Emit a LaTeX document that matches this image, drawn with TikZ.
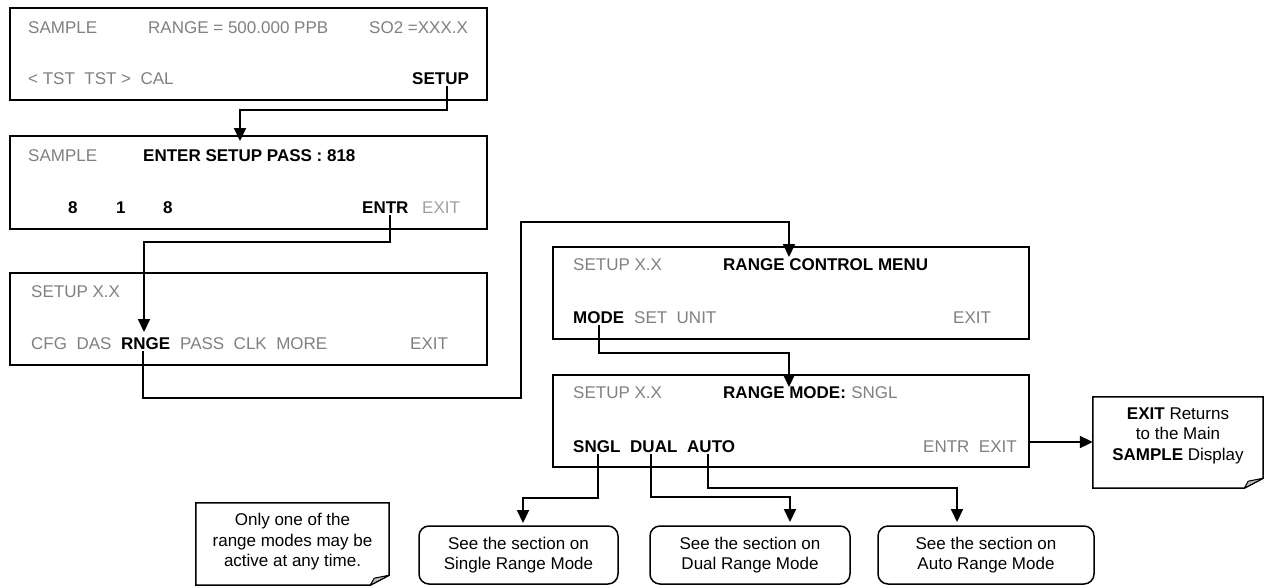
\documentclass[tikz,border=0pt]{standalone}
\usepackage{fontspec}
\setmainfont{Liberation Sans}
\usetikzlibrary{arrows.meta}
\definecolor{lcdgray}{RGB}{128,128,128}
\definecolor{lcdlight}{RGB}{160,160,160}
\definecolor{foldgray}{RGB}{190,190,190}
\begin{document}
\begin{tikzpicture}[x=1pt,y=-1pt,
  every node/.style={font=\fontsize{17}{20}\selectfont},
  disp/.style={draw=black, line width=1.8pt, anchor=north west, inner sep=0},
  lbl/.style={anchor=base west, inner sep=0, text=lcdgray},
  key/.style={anchor=base west, inner sep=0, text=black, font=\fontsize{17}{20}\selectfont\bfseries},
  conn/.style={line width=2pt, -{Triangle[length=13pt,width=12pt]}},
  sect/.style={draw=black, line width=1.5pt, rounded corners=10pt, align=center, inner sep=0,
               font=\fontsize{17}{19.5}\selectfont},
  noteframe/.style={draw=black, line width=1.5pt, fill=white},
  notefold/.style={draw=black, line width=1pt, fill=foldgray, line join=round},
  notetext/.style={align=center, inner sep=0, font=\fontsize{17}{20.5}\selectfont}
]
\useasboundingbox (0,0) rectangle (1264,587);

% ---------- display 1
\node[disp, minimum width=477pt, minimum height=92pt] (b1) at (9,7) {};
\node[lbl] (b1a) at (28,33) {SAMPLE};
\node[lbl] (b1b) at (148,33) {RANGE = 500.000 PPB};
\node[lbl] (b1c) at (369,33) {SO2 =XXX.X};
\node[lbl] (b1d) at (28,84) {< TST\ \ TST >\ \ CAL};
\node[key] (setupk) at (412,84) {SETUP};

% ---------- display 2
\node[disp, minimum width=477pt, minimum height=93pt] (b2) at (9,135) {};
\node[lbl] (b2a) at (28,161) {SAMPLE};
\node[key] (passk) at (143,161) {ENTER SETUP PASS : 818};
\node[key] (d1) at (68,213) {8};
\node[key] (d2) at (116,213) {1};
\node[key] (d3) at (163,213) {8};
\node[key] (entrk) at (362,213) {ENTR};
\node[lbl, text=lcdlight] (b2x) at (422,213) {EXIT};

% ---------- display 3
\node[disp, minimum width=477pt, minimum height=92pt] (b3) at (9,272) {};
\node[lbl] (b3a) at (31,297) {SETUP X.X};
\node[lbl] (b3b) at (31,349) {CFG\ \ DAS};
\node[key] (rngek) at (121,349) {RNGE};
\node[lbl] (b3c) at (180,349) {PASS\ \ CLK\ \ MORE};
\node[lbl] (b3x) at (410,349) {EXIT};

% ---------- display 4
\node[disp, minimum width=476pt, minimum height=92pt] (b4) at (552,246) {};
\node[lbl] (b4a) at (573,270) {SETUP X.X};
\node[key] (b4b) at (723,270) {RANGE CONTROL MENU};
\node[key] (modek) at (573,323) {MODE};
\node[lbl] (b4c) at (634,323) {SET\ \ UNIT};
\node[lbl] (b4x) at (953,323) {EXIT};

% ---------- display 5
\node[disp, minimum width=476pt, minimum height=92pt] (b5) at (552,374) {};
\node[lbl] (b5a) at (573,398) {SETUP X.X};
\node[key] (b5b) at (723,398) {RANGE MODE:};
\node[lbl, anchor=base west] (b5c) at ([xshift=5pt]b5b.base east) {SNGL};
\node[key] (sngk) at (573,452) {SNGL};
\node[key] (dualk) at (630,452) {DUAL};
\node[key] (autok) at (687,452) {AUTO};
\node[lbl] (b5x) at (923,452) {ENTR\ \ EXIT};

% ---------- section boxes
\node[sect, minimum width=199pt, minimum height=58pt] (s1) at (518.5,555) {See the section on\\Single Range Mode};
\node[sect, minimum width=200pt, minimum height=58pt] (s2) at (750,555) {See the section on\\Dual Range Mode};
\node[sect, minimum width=216pt, minimum height=58pt] (s3) at (986,555) {See the section on\\Auto Range Mode};

% ---------- callout: EXIT
\node[inner sep=0, minimum width=170pt, minimum height=91pt] (c2) at (1178,442.5) {};
\draw[noteframe] (c2.north west) -- (c2.north east) -- ([yshift=10pt]c2.south east)
   -- ([xshift=-19pt]c2.south east) -- (c2.south west) -- cycle;
\draw[notefold] ([yshift=10pt]c2.south east) -- ([xshift=-19pt]c2.south east)
   -- ([xshift=-15pt,yshift=7pt]c2.south east) -- cycle;
\node[notetext] (c2t) at (1178,435.5) {\textbf{EXIT} Returns\\to the Main\\\textbf{SAMPLE} Display};

% ---------- callout: note
\node[inner sep=0, minimum width=193pt, minimum height=82pt] (c1) at (292.5,544) {};
\draw[noteframe] (c1.north west) -- (c1.north east) -- ([yshift=10pt]c1.south east)
   -- ([xshift=-19pt]c1.south east) -- (c1.south west) -- cycle;
\draw[notefold] ([yshift=10pt]c1.south east) -- ([xshift=-19pt]c1.south east)
   -- ([xshift=-15pt,yshift=7pt]c1.south east) -- cycle;
\node[notetext] (c1t) at (292.5,542) {Only one of the\\range modes may be\\active at any time.};

% ---------- connector end points
\coordinate (t1) at (240,141);
\coordinate (t2) at (144,332);
\coordinate (j1) at (521,398);
\coordinate (j2) at (789,222);
\coordinate (t3) at (789,257);
\coordinate (t4) at (789,387);
\coordinate (t5) at (523,523);
\coordinate (t6) at (790,522);
\coordinate (t7) at (957,522);

% ---------- connectors
\draw[conn] ([xshift=6pt,yshift=-2pt]setupk.south) -- ++(0,24) -| (t1);
\draw[conn] ([xshift=5pt,yshift=-2pt]entrk.south) -- ++(0,27) -| (t2);
\draw[conn] ([xshift=-2.5pt,yshift=-2pt]rngek.south) |- (j1) |- (j2) -- (t3);
\draw[conn] ([yshift=-2pt]modek.south) -- ++(0,28) -| (t4);
\draw[conn] ([xshift=1.5pt,yshift=-2pt]sngk.south) -- ++(0,44) -| (t5);
\draw[conn] ([xshift=-3pt,yshift=-2pt]dualk.south) -- ++(0,43) -| (t6);
\draw[conn] ([xshift=-3pt,yshift=-2pt]autok.south) -- ++(0,34) -| (t7);
\draw[conn] (b5.east |- 0,442) -- (c2.west |- 0,442);
\end{tikzpicture}
\end{document}
